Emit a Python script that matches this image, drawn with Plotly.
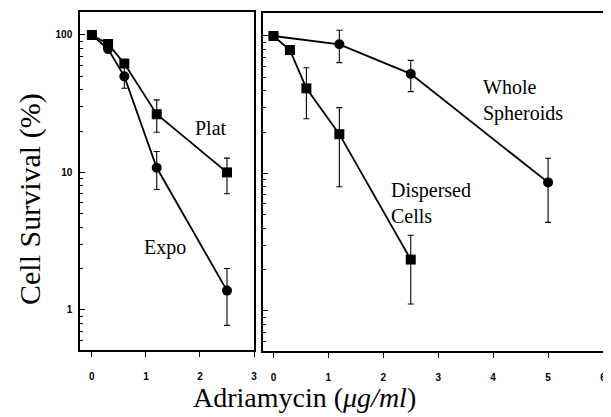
import plotly.graph_objects as go
import numpy as np

# Left panel: Plat (squares), Expo (circles)
plat_x = [0, 0.3, 0.6, 1.2, 2.5]
plat_y = [100, 86, 62, 26.5, 10]
plat_hi = [100, 86, 62, 33.7, 12.7]
plat_lo = [100, 86, 62, 19.6, 7.0]

expo_x = [0, 0.3, 0.6, 1.2, 2.5]
expo_y = [100, 79, 50, 10.8, 1.38]
expo_hi = [100, 85, 58, 14.2, 2.0]
expo_lo = [100, 74, 41, 7.5, 0.77]

# Right panel: Whole Spheroids (circles), Dispersed Cells (squares)
whole_x = [0, 1.2, 2.5, 5]
whole_y = [100, 87, 53, 8.6]
whole_hi = [100, 110, 66.5, 12.9]
whole_lo = [100, 64, 39.4, 4.4]

disp_x = [0, 0.3, 0.6, 1.2, 2.5]
disp_y = [100, 79, 41.6, 19.3, 2.36]
disp_hi = [100, 79, 58.8, 30.1, 3.55]
disp_lo = [100, 79, 25, 8.0, 1.12]

left_xticks = [0, 1, 2, 3]
right_xticks = [0, 1, 2, 3, 4, 5, 6]
y_ticks = [1, 10, 100]
y_minor = [v * d for d in [0.1, 1, 10] for v in range(2, 10)] + [1.5e2]

fig = go.Figure()

def add(xs, ys, hi, lo, symbol, xa, ya):
    fig.add_trace(go.Scatter(
        x=xs, y=ys, mode="lines+markers", xaxis=xa, yaxis=ya,
        line=dict(color="black", width=1.8),
        marker=dict(symbol=symbol, size=10, color="black"),
        error_y=dict(type="data", symmetric=False,
                     array=[h - v for h, v in zip(hi, ys)],
                     arrayminus=[v - l for v, l in zip(ys, lo)],
                     color="black", thickness=1.1, width=3),
        showlegend=False, cliponaxis=False))

add(plat_x, plat_y, plat_hi, plat_lo, "square", "x", "y")
add(expo_x, expo_y, expo_hi, expo_lo, "circle", "x", "y")
add(whole_x, whole_y, whole_hi, whole_lo, "circle", "x2", "y2")
add(disp_x, disp_y, disp_hi, disp_lo, "square", "x2", "y2")

# page body has an 8px default margin; size the figure to fit the window
OFF = 8
W, H = 611 - OFF, 417 - OFF

def px(x):
    return (x - OFF) / W

def py(y):
    return 1 - (y - OFF) / H

yrange = [np.log10(0.51), np.log10(147)]

tickfont = dict(family="Liberation Sans", size=10, color="black", weight="bold")

xcommon = dict(showline=True, linecolor="black", linewidth=1.5, mirror=True,
               ticks="outside", ticklen=5, tickwidth=1.2, tickcolor="black",
               showgrid=False, zeroline=False, tickfont=tickfont,
               ticklabelstandoff=11, automargin=False,
               ticklabeloverflow="allow")
ycommon = dict(type="log", range=yrange, showline=True, linecolor="black",
               linewidth=1.5, mirror=True, ticks="inside", ticklen=5,
               tickwidth=1.2, tickcolor="black", showgrid=False, zeroline=False,
               tickfont=tickfont, automargin=False,
               minor=dict(tickvals=y_minor, ticks="inside", ticklen=3,
                          tickcolor="black", tickwidth=1, showgrid=False))

fig.update_layout(
    width=W, height=H, margin=dict(l=0, r=0, t=0, b=0, autoexpand=False),
    plot_bgcolor="white", paper_bgcolor="white",
    xaxis=dict(domain=[px(80), px(254)], range=[-0.22, 3.0],
               tickvals=left_xticks, anchor="y", **xcommon),
    yaxis=dict(domain=[py(350), py(12)], anchor="x",
               tickvals=y_ticks, ticktext=["1", "10", "100"],
               ticklabelstandoff=4, **ycommon),
    xaxis2=dict(domain=[px(263), px(603)], range=[-0.19, 6.0],
                tickvals=right_xticks, anchor="y2", **xcommon),
    yaxis2=dict(domain=[py(351), py(13)], anchor="x2",
                tickvals=y_ticks, showticklabels=False, **ycommon),
)

serif = "Liberation Serif"
ann_font = dict(family=serif, size=20, color="black")
fig.add_annotation(x=2.2, y=np.log10(21), xref="x", yref="y", text="Plat",
                   showarrow=False, font=ann_font)
fig.add_annotation(x=1.36, y=np.log10(2.83), xref="x", yref="y", text="Expo",
                   showarrow=False, font=ann_font)
fig.add_annotation(x=3.78, y=np.log10(34), xref="x2", yref="y2",
                   text="Whole<br>Spheroids", showarrow=False, font=ann_font,
                   xanchor="left", align="left")
fig.add_annotation(x=2.1, y=np.log10(6.1), xref="x2", yref="y2",
                   text="Dispersed<br>Cells", showarrow=False, font=ann_font,
                   xanchor="left", align="left")

fig.add_annotation(x=px(30), y=py(199), xref="paper", yref="paper",
                   xanchor="center", yanchor="middle",
                   text="Cell Survival (%)", textangle=-90, showarrow=False,
                   font=dict(family=serif, size=30, color="black"))
fig.add_annotation(x=px(304), y=py(397), xref="paper", yref="paper",
                   xanchor="center", yanchor="middle",
                   text="Adriamycin (<i>μg/ml</i>)", showarrow=False,
                   font=dict(family=serif, size=28, color="black"))

fig.write_html("out.html")
